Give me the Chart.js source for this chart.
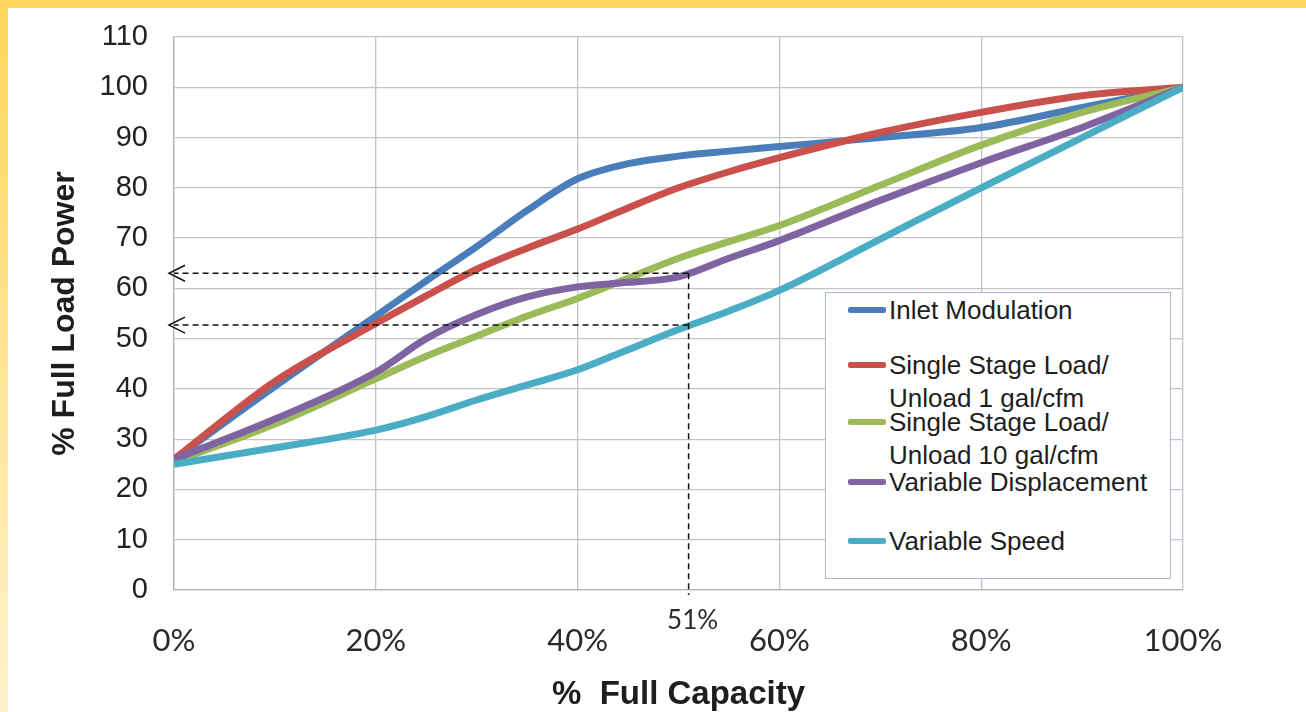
<!DOCTYPE html>
<html>
<head>
<meta charset="utf-8">
<script src="https://cdn.jsdelivr.net/npm/chart.js@4.4.1/dist/chart.umd.min.js"></script>
<style>
    html, body { margin: 0; padding: 0; }
    body {
        width: 1306px; height: 712px; overflow: hidden; position: relative;
        background: linear-gradient(to bottom, #FFD65A 0%, #FFE699 55%, #FFF2CC 100%);
    }
    .hoja { position: absolute; left: 8px; top: 8px; right: 0; bottom: 0; background: #fff; }
    .grafico { position: absolute; left: 0; top: 0; width: 1306px; height: 712px; }
    .leyenda {
        position: absolute; left: 825px; top: 292px; width: 346px; height: 287px;
        border: 1px solid #a9b9cc; background: #fff; box-sizing: border-box;
        font-family: "Liberation Sans", Arial, sans-serif; font-size: 26px; color: #1e1e1e;
    }
    .item { position: absolute; left: 0; }
    .item .muestra { position: absolute; left: 22px; width: 38px; height: 6px; border-radius: 2px; }
    .item .texto { position: absolute; left: 63px; white-space: nowrap; line-height: 33px; }
</style>
</head>
<body>
<div class="hoja"></div>
<div class="grafico"><canvas id="chart" width="1306" height="712"></canvas></div>
<div class="leyenda" id="leyenda"></div>
<script>
// % full capacity sampled for every curve
const capacidad = [0, 10, 20, 25, 30, 35, 40, 45, 50, 55, 60, 70, 80, 90, 100];

const inletModulation   = [26, 40.5, 54.5, 61.5, 68.3, 75.5, 81.8, 84.8, 86.3, 87.3, 88.2, 90, 92, 96, 100];
const singleStage1      = [26, 41.5, 53, 58.5, 63.8, 68, 71.8, 76, 80, 83.2, 86, 91, 95, 98.3, 100];
const singleStage10     = [25.5, 33, 42, 46.5, 50.5, 54.5, 58, 62, 66, 69.3, 72.5, 80.5, 88.5, 95, 100];
const variableDisp      = [26, 34, 43.3, 50, 54.8, 58.3, 60.3, 61.2, 62.3, 66, 69.5, 77.5, 85, 92, 100];
const variableSpeed     = [25, 28.3, 31.8, 34.5, 37.8, 40.8, 43.8, 47.8, 51.8, 55.5, 59.6, 69.8, 80, 90, 100];

const nombres = ["Inlet Modulation", "Single Stage Load/\nUnload 1 gal/cfm", "Single Stage Load/\nUnload 10 gal/cfm", "Variable Displacement", "Variable Speed"];
const colores = ["#4A7EBB", "#C9504B", "#9BBB59", "#8064A2", "#4BACC6"];

// reading marked with dashed guides
const capacidadMarca = 51;
const potenciasMarca = [63, 52.7];

const yTicks = [0, 110, 10];
const xTicks = [0, 100, 20];

const series = [inletModulation, singleStage1, singleStage10, variableDisp, variableSpeed];
const posLeyenda = [17, 72, 129, 189, 248];

const datasets = [];
series.forEach(function(valores, i) {
    datasets.push({
        label: nombres[i],
        data: capacidad.map((c, j) => ({ x: c, y: valores[j] })),
        borderColor: colores[i],
        borderWidth: 7,
        pointRadius: 0,
        cubicInterpolationMode: "monotone",
        fill: false,
        order: series.length - i
    });
});

potenciasMarca.forEach(function(p) {
    datasets.push({
        label: "guia",
        data: [{ x: capacidadMarca, y: p }, { x: 0, y: p }],
        borderColor: "#111",
        borderWidth: 1.5,
        borderDash: [6, 4],
        pointRadius: 0,
        clip: false,
        order: 0
    });
});
datasets.push({
    label: "guia",
    data: [{ x: capacidadMarca, y: Math.max(...potenciasMarca) }, { x: capacidadMarca, y: -1 }],
    borderColor: "#111",
    borderWidth: 1.5,
    borderDash: [6, 4],
    pointRadius: 0,
    clip: false,
    order: 0
});

const extras = {
    id: "extras",
    afterDatasetsDraw(chart) {
        const ctx = chart.ctx;
        const sx = chart.scales.x, sy = chart.scales.y;
        ctx.save();
        ctx.strokeStyle = "#111";
        ctx.lineWidth = 1.5;
        potenciasMarca.forEach(function(p) {
            const px = sx.getPixelForValue(0) - 5;
            const py = sy.getPixelForValue(p);
            ctx.beginPath();
            ctx.moveTo(px + 16, py - 8);
            ctx.lineTo(px, py);
            ctx.lineTo(px + 16, py + 8);
            ctx.stroke();
        });
        ctx.fillStyle = "#2a2a2a";
        ctx.font = "26px Lato, 'Open Sans', sans-serif";
        ctx.textAlign = "center";
        ctx.textBaseline = "middle";
        ctx.fillText(capacidadMarca + "%", sx.getPixelForValue(capacidadMarca) + 4, chart.chartArea.bottom + 31);
        ctx.restore();
    }
};

new Chart(document.getElementById("chart").getContext("2d"), {
    type: "line",
    data: { datasets: datasets },
    options: {
        responsive: false,
        animation: false,
        layout: { padding: { left: 0, right: 123, top: 37, bottom: 0 } },
        plugins: { legend: { display: false }, tooltip: { enabled: false } },
        scales: {
            x: {
                type: "linear",
                min: xTicks[0], max: xTicks[1],
                afterFit: s => { s.height = 122; },
                grid: { color: "#c4c4c4", lineWidth: 1.3, drawTicks: false },
                border: { color: "#b5b5b5", width: 1.3 },
                ticks: {
                    stepSize: xTicks[2], padding: 32, color: "#2a2a2a",
                    font: { family: "Lato, 'Open Sans', sans-serif", size: 31 },
                    callback: v => v + "%"
                },
                title: {
                    display: true, text: "%  Full Capacity", color: "#1e1e1e",
                    font: { family: "'Liberation Sans', Arial, sans-serif", size: 33, weight: "bold", lineHeight: 1 },
                    padding: { top: 0, bottom: 1 }
                }
            },
            y: {
                min: yTicks[0], max: yTicks[1],
                afterFit: s => { s.width = 174; s.paddingTop = 0; s.paddingBottom = 0; },
                grid: { color: "#c4c4c4", lineWidth: 1.3, drawTicks: false },
                border: { color: "#b5b5b5", width: 1.3 },
                ticks: {
                    stepSize: yTicks[2], padding: 26, color: "#222",
                    font: { family: "'Liberation Sans', Arial, sans-serif", size: 29 }
                },
                title: {
                    display: true, text: "% Full Load Power", color: "#1e1e1e",
                    font: { family: "'Liberation Sans', Arial, sans-serif", size: 32, weight: "bold", lineHeight: 1 },
                    padding: { top: 49, bottom: 0 }
                }
            }
        }
    },
    plugins: [extras]
});

const leyenda = document.getElementById("leyenda");
nombres.forEach(function(nombre, i) {
    const item = document.createElement("div");
    item.className = "item";
    item.style.top = posLeyenda[i] + "px";
    item.innerHTML = `<div class="muestra" style="background:${colores[i]}; top:-3px"></div>` +
        `<div class="texto" style="top:-16px">${nombre.replace("\n", "<br>")}</div>`;
    leyenda.appendChild(item);
});
</script>
</body>
</html>
